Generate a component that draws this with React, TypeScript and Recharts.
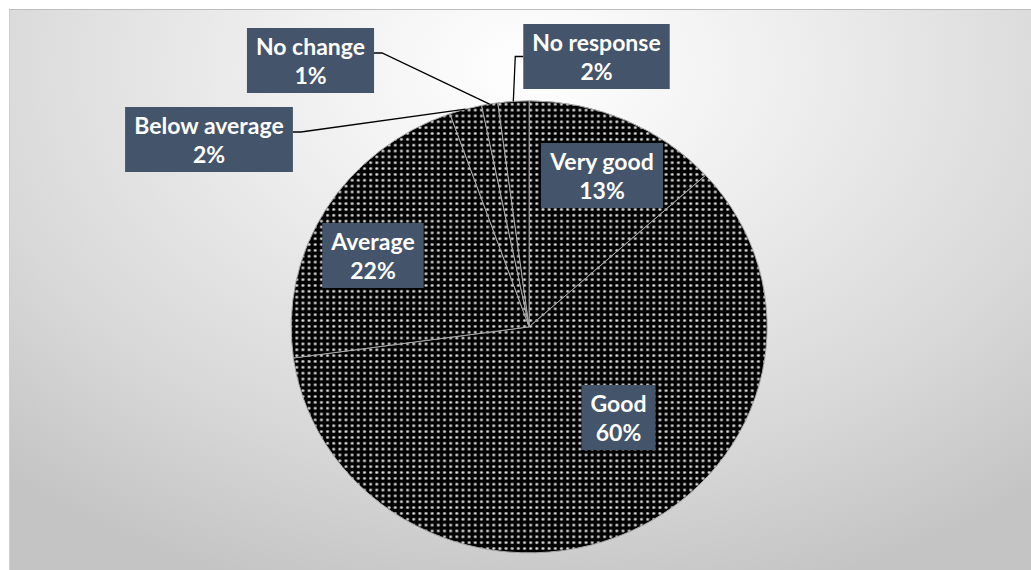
import { PieChart, Pie, Cell } from "recharts";

const categories = ["Very good", "Good", "Average", "Below average", "No change", "No response"];
const shares = [13.3, 59.5, 21.8, 2.2, 1.1, 2.1];

const data = categories.map((name, i) => ({ name, value: shares[i] }));

// where each label box sits, measured from the pie centre
const labelOffsets: Record<string, [number, number]> = {
  "Very good": [73, -151.5],
  Good: [89.5, 90.5],
  Average: [-156, -71.5],
  "Below average": [-320, -187.5],
  "No change": [-218.5, -266.5],
  "No response": [67.5, -270.5],
};
const withLeader = ["Below average", "No change", "No response"];

const CX = 524;
const CY = 322;
const R = 232;
// the original pie is a little wider than tall
const RX = 238;
const RY = 226;

const RADIAN = Math.PI / 180;
const FONT_SIZE = 23;
const FONT = `bold ${FONT_SIZE}px Lato`;
const BOX_FILL = "#44546A";

let canvas: HTMLCanvasElement | null = null;
const measure = (s: string) => {
  if (!canvas) canvas = document.createElement("canvas");
  const ctx = canvas.getContext("2d")!;
  ctx.font = FONT;
  return ctx.measureText(s).width;
};

const renderLabel = (props: any) => {
  const { cx, cy, midAngle, percent, name } = props;
  const off = labelOffsets[name];
  if (!off) return null;
  const pct = `${Math.round(percent * 100)}%`;
  const w = Math.max(measure(name), measure(pct)) + 18;
  const h = 65;
  const bx = cx + off[0];
  const by = cy + off[1];
  const left = bx - w / 2;
  const top = by - h / 2;

  let leader = null;
  if (withLeader.includes(name)) {
    const ax = cx + RX * Math.cos(-midAngle * RADIAN);
    const ay = cy + RY * Math.sin(-midAngle * RADIAN);
    const onLeft = off[0] < 0;
    const ex = onLeft ? left + w : left;
    const ey = onLeft ? top + 25 : by;
    const kx = onLeft ? ex + 8 : ex - 8;
    leader = (
      <polyline
        points={`${ax},${ay} ${kx},${ey} ${ex},${ey}`}
        fill="none"
        stroke="#000"
        strokeWidth={1.3}
      />
    );
  }

  return (
    <g key={`lbl-${name}`}>
      {leader}
      <rect x={left} y={top} width={w} height={h} fill={BOX_FILL} />
      <text
        x={bx}
        y={top + 27}
        textAnchor="middle"
        fill="#fff"
        fontFamily="Lato"
        fontWeight="bold"
        fontSize={FONT_SIZE}
      >
        {name}
      </text>
      <text
        x={bx}
        y={top + 56}
        textAnchor="middle"
        fill="#fff"
        fontFamily="Lato"
        fontWeight="bold"
        fontSize={FONT_SIZE}
      >
        {pct}
      </text>
    </g>
  );
};

export default function App() {
  const squash = {
    transform: `scale(${RX / R}, ${RY / R})`,
    transformOrigin: `${CX}px ${CY}px`,
    transformBox: "view-box" as const,
  };
  return (
    <div
      style={{
        position: "absolute",
        left: 0,
        top: 0,
        width: 1031,
        height: 570,
        background: "#fff",
        overflow: "hidden",
      }}
    >
      <div
        style={{
          position: "absolute",
          left: 9,
          top: 9,
          width: 1040,
          height: 580,
          borderTop: "1px solid #bdbdbd",
          borderLeft: "1px solid #cfcfcf",
          background:
            "radial-gradient(ellipse 75% 95% at 50% 10%, #ffffff 0%, #f0f0f0 30%, #d8d8d8 72%, #c4c4c4 100%)",
        }}
      />
      <div style={{ position: "absolute", left: 0, top: 0 }}>
        <PieChart width={1031} height={570}>
          <defs>
            <pattern id="dotgrid" width={6} height={6} patternUnits="userSpaceOnUse">
              <rect width={6} height={6} fill="#000" />
              <rect x={1} y={1} width={3} height={3} fill="#5a5a5a" />
              <rect x={2} y={1} width={1} height={3} fill="#c8c8c8" />
              <rect x={1} y={2} width={3} height={1} fill="#aaaaaa" />
              <rect x={2} y={2} width={1} height={1} fill="#ffffff" />
            </pattern>
          </defs>
          <Pie
            data={data}
            dataKey="value"
            nameKey="name"
            cx={CX}
            cy={CY}
            outerRadius={R}
            startAngle={90}
            endAngle={-270}
            label={false}
            labelLine={false}
            isAnimationActive={false}
          >
            {data.map((d) => (
              <Cell
                key={d.name}
                fill="url(#dotgrid)"
                stroke="#a8a8a8"
                strokeWidth={1}
                vectorEffect="non-scaling-stroke"
                style={squash}
              />
            ))}
          </Pie>
          <Pie
            data={data}
            dataKey="value"
            nameKey="name"
            cx={CX}
            cy={CY}
            outerRadius={R}
            startAngle={90}
            endAngle={-270}
            label={renderLabel}
            labelLine={false}
            isAnimationActive={false}
          >
            {data.map((d) => (
              <Cell key={d.name} fill="none" stroke="none" />
            ))}
          </Pie>
        </PieChart>
      </div>
    </div>
  );
}
